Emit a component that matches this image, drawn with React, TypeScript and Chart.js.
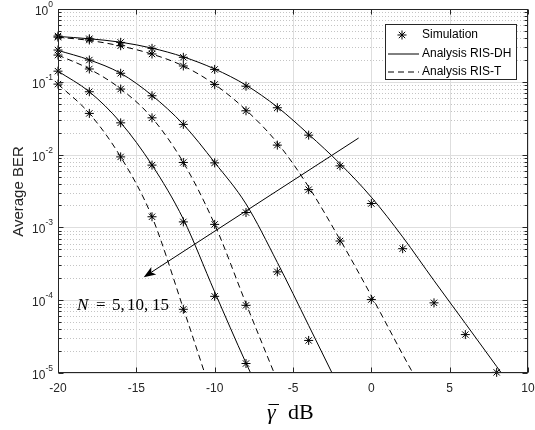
import React, { useEffect, useRef } from 'react';
import { Chart, registerables } from 'chart.js';

Chart.register(...registerables);

// ---- data ----
const snrSim = [-20, -18, -16, -14, -12, -10, -8, -6, -4, -2, 0, 2, 4, 6, 8];
const simN5DH = [0.425, 0.39, 0.348, 0.288, 0.217, 0.148, 0.087, 0.044, 0.0185, 0.007, 0.00213, 5.1e-4, 9.2e-5, 3.37e-5, 1.02e-5];
const simN5T = [0.41, 0.375, 0.313, 0.241, 0.165, 0.092, 0.04, 0.0135, 0.0033, 6.5e-4, 1.02e-4];
const simN10DH = [0.273, 0.199, 0.131, 0.0643, 0.026, 0.0077, 0.0016, 2.45e-4, 2.8e-5];
const simN10T = [0.233, 0.15, 0.0795, 0.032, 0.0078, 0.0011, 8.5e-5];
const simN15DH = [0.14, 0.073, 0.0273, 0.00717, 0.00119, 1.13e-4, 1.35e-5];
const simN15T = [0.093, 0.0368, 0.0093, 0.0014, 7.5e-5];

const snrAna = [-20, -18, -16, -14, -12, -10, -8, -6, -4, -2, 0, 2, 4, 6, 8, 10];
const anaN5DH = [0.42, 0.39, 0.35, 0.29, 0.22, 0.15, 0.09, 0.045, 0.019, 0.0075, 0.0026, 7.4e-4, 1.86e-4, 4.8e-5, 1.23e-5, 3.1e-6];
const anaN5T = [0.41, 0.37, 0.31, 0.24, 0.165, 0.092, 0.041, 0.0145, 0.0036, 6.8e-4, 1.15e-4, 1.8e-5, 3e-6];
const anaN10DH = [0.27, 0.2, 0.131, 0.065, 0.026, 0.0078, 0.0021, 3.3e-4, 4.5e-5, 6e-6];
const anaN10T = [0.233, 0.15, 0.08, 0.032, 0.0078, 0.0011, 9e-5, 7.8e-6];
const anaN15DH = [0.14, 0.073, 0.0275, 0.0072, 0.0013, 1.3e-4, 1.37e-5, 1.7e-6];
const anaN15T = [0.093, 0.0368, 0.0093, 0.0014, 7.7e-5, 3.8e-6];

const xTicks = [-20, -15, -10, -5, 0, 5, 10];
const yDecades = [0, -1, -2, -3, -4, -5];
const legendLabels = ['Simulation', 'Analysis RIS-DH', 'Analysis RIS-T'];
const xTitleSym = 'γ';
const xTitleUnit = 'dB';
const yTitle = 'Average BER';
const annotLabel = ['N', '=', '5,', '10,', '15'];
// arrow (data coordinates): from start to tip
const arrowStart = { x: -0.81, y: 0.0169 };
const arrowTip = { x: -14.53, y: 2.07e-4 };

const AX = '#262626';
const SANS = '"Liberation Sans", Arial, sans-serif';
const SERIF = '"Liberation Serif", "Times New Roman", serif';

function drawStar(ctx: CanvasRenderingContext2D, cx: number, cy: number, r: number) {
  ctx.beginPath();
  ctx.moveTo(cx - r, cy); ctx.lineTo(cx + r, cy);
  ctx.moveTo(cx, cy - r); ctx.lineTo(cx, cy + r);
  const d = r * Math.SQRT1_2;
  ctx.moveTo(cx - d, cy - d); ctx.lineTo(cx + d, cy + d);
  ctx.moveTo(cx - d, cy + d); ctx.lineTo(cx + d, cy - d);
  ctx.stroke();
}

const overlay = {
  id: 'overlay',
  beforeDatasetsDraw(chart: any) {
    const { ctx, chartArea: a, scales } = chart;
    const x = scales.x, y = scales.y;
    ctx.save();
    ctx.lineWidth = 1;
    // minor dotted horizontal grid
    ctx.strokeStyle = '#c4c4c4';
    ctx.setLineDash([1, 2]);
    for (let e = -5; e < 0; e++) {
      for (let m = 2; m <= 9; m++) {
        const py = Math.round(y.getPixelForValue(m * Math.pow(10, e))) + 0.5;
        ctx.beginPath(); ctx.moveTo(a.left, py); ctx.lineTo(a.right, py); ctx.stroke();
      }
    }
    ctx.setLineDash([]);
    ctx.strokeStyle = '#dedede';
    yDecades.forEach((e) => {
      const py = Math.round(y.getPixelForValue(Math.pow(10, e))) + 0.5;
      ctx.beginPath(); ctx.moveTo(a.left, py); ctx.lineTo(a.right, py); ctx.stroke();
    });
    xTicks.forEach((t) => {
      const px = Math.round(x.getPixelForValue(t)) + 0.5;
      ctx.beginPath(); ctx.moveTo(px, a.top); ctx.lineTo(px, a.bottom); ctx.stroke();
    });
    ctx.restore();
  },
  afterDatasetsDraw(chart: any) {
    const { ctx, chartArea: a, scales } = chart;
    const x = scales.x, y = scales.y;
    ctx.save();
    ctx.lineWidth = 1;
    ctx.strokeStyle = AX;
    ctx.setLineDash([]);
    const L = Math.round(a.left) + 0.5, R = Math.round(a.right) - 0.5;
    const T = Math.round(a.top) + 0.5, B = Math.round(a.bottom) - 0.5;
    ctx.strokeRect(L, T, R - L, B - T);
    // ticks
    ctx.beginPath();
    xTicks.forEach((t) => {
      const px = Math.round(x.getPixelForValue(t)) + 0.5;
      ctx.moveTo(px, B); ctx.lineTo(px, B - 5);
      ctx.moveTo(px, T); ctx.lineTo(px, T + 5);
    });
    for (let e = -5; e <= 0; e++) {
      for (let m = 1; m <= 9; m++) {
        if (e === 0 && m > 1) break;
        const py = Math.round(y.getPixelForValue(m * Math.pow(10, e))) + 0.5;
        const len = m === 1 ? 5 : 3;
        ctx.moveTo(L, py); ctx.lineTo(L + len, py);
        ctx.moveTo(R, py); ctx.lineTo(R - len, py);
      }
    }
    ctx.stroke();
    // x tick labels
    ctx.fillStyle = AX;
    ctx.font = `12px ${SANS}`;
    ctx.textAlign = 'center';
    ctx.textBaseline = 'middle';
    xTicks.forEach((t) => {
      ctx.fillText(String(t), x.getPixelForValue(t), a.bottom + 16);
    });
    // y tick labels 10^e
    yDecades.forEach((e) => {
      const py = y.getPixelForValue(Math.pow(10, e));
      const exp = e === 0 ? '0' : '-' + Math.abs(e);
      ctx.font = `8.5px ${SANS}`;
      const ew = ctx.measureText(exp).width;
      ctx.textAlign = 'left';
      ctx.textBaseline = 'alphabetic';
      const right = a.left - 5;
      ctx.fillText(exp, right - ew, py - 2);
      ctx.font = `12px ${SANS}`;
      ctx.textAlign = 'right';
      ctx.fillText('10', right - ew, py + 6);
    });
    // y title
    ctx.save();
    ctx.translate(19, 191.5);
    ctx.rotate(-Math.PI / 2);
    ctx.font = `15px ${SANS}`;
    ctx.textAlign = 'center';
    ctx.textBaseline = 'middle';
    ctx.fillStyle = AX;
    ctx.fillText(yTitle, 0, 0);
    ctx.restore();
    // x title: gamma with bar, then dB
    ctx.fillStyle = '#000';
    ctx.strokeStyle = '#000';
    ctx.textBaseline = 'alphabetic';
    ctx.textAlign = 'left';
    ctx.font = `italic 22px ${SERIF}`;
    ctx.fillText(xTitleSym, 267, 419);
    ctx.beginPath(); ctx.moveTo(268.5, 404.5); ctx.lineTo(279, 404.5); ctx.stroke();
    ctx.font = `22px ${SERIF}`;
    ctx.fillText(xTitleUnit, 288, 419);

    // legend
    const lx = 385.5, ly = 24.5, lw = 131, lh = 55;
    ctx.fillStyle = '#fff';
    ctx.fillRect(lx, ly, lw, lh);
    ctx.strokeStyle = AX;
    ctx.strokeRect(lx, ly, lw, lh);
    const rows = [35, 53.5, 71.5];
    ctx.strokeStyle = '#000';
    drawStar(ctx, 402, rows[0], 4.5);
    ctx.beginPath(); ctx.moveTo(388, rows[1] + 0.5); ctx.lineTo(419, rows[1] + 0.5); ctx.stroke();
    ctx.setLineDash([6, 4]);
    ctx.beginPath(); ctx.moveTo(388, rows[2] + 0.5); ctx.lineTo(419, rows[2] + 0.5); ctx.stroke();
    ctx.setLineDash([]);
    ctx.fillStyle = '#000';
    ctx.font = `12px ${SANS}`;
    ctx.textAlign = 'left';
    ctx.textBaseline = 'middle';
    legendLabels.forEach((s, i) => ctx.fillText(s, 422, rows[i]));

    // arrow annotation
    const sx = x.getPixelForValue(arrowStart.x), sy = y.getPixelForValue(arrowStart.y);
    const tx = x.getPixelForValue(arrowTip.x), ty = y.getPixelForValue(arrowTip.y);
    const ang = Math.atan2(ty - sy, tx - sx);
    const hl = 12, hw = 4.5, notch = 3;
    const ux = Math.cos(ang), uy = Math.sin(ang);
    const bx = tx - ux * hl, by = ty - uy * hl;
    ctx.strokeStyle = '#000';
    ctx.beginPath(); ctx.moveTo(sx, sy); ctx.lineTo(bx + ux * notch, by + uy * notch); ctx.stroke();
    ctx.fillStyle = '#000';
    ctx.beginPath();
    ctx.moveTo(tx, ty);
    ctx.lineTo(bx - uy * hw, by + ux * hw);
    ctx.lineTo(bx + ux * notch, by + uy * notch);
    ctx.lineTo(bx + uy * hw, by - ux * hw);
    ctx.closePath();
    ctx.fill();

    // N = 5, 10, 15
    ctx.textAlign = 'left';
    ctx.textBaseline = 'alphabetic';
    ctx.font = `italic 17px ${SERIF}`;
    ctx.fillText(annotLabel[0], 77, 310);
    ctx.font = `17px ${SERIF}`;
    const px = [96, 112, 127, 152];
    for (let i = 1; i < annotLabel.length; i++) ctx.fillText(annotLabel[i], px[i - 1], 310);
    ctx.restore();
  },
};

export default function App() {
  const ref = useRef<HTMLCanvasElement>(null);
  useEffect(() => {
    document.body.style.margin = '0';
    const canvas = ref.current!;
    const mk = (xs: number[], ys: number[]) => ys.map((v, i) => ({ x: xs[i], y: v }));
    const ana = (d: number[], dashed: boolean) => ({
      data: mk(snrAna, d),
      borderColor: '#000',
      borderWidth: 1,
      borderDash: dashed ? [6, 4] : [],
      pointRadius: 0,
      fill: false,
      cubicInterpolationMode: 'monotone' as const,
    });
    const sim = (d: number[]) => ({
      data: mk(snrSim, d),
      showLine: false,
      pointStyle: 'star' as const,
      pointRadius: 4.5,
      borderColor: '#000',
      backgroundColor: '#000',
      pointBorderWidth: 1,
      clip: 6,
    });
    const chart = new Chart(canvas, {
      type: 'line',
      data: {
        datasets: [
          ana(anaN5DH, false), ana(anaN5T, true),
          ana(anaN10DH, false), ana(anaN10T, true),
          ana(anaN15DH, false), ana(anaN15T, true),
          sim(simN5DH), sim(simN5T), sim(simN10DH), sim(simN10T), sim(simN15DH), sim(simN15T),
        ] as any,
      },
      options: {
        responsive: false,
        animation: false,
        layout: { padding: { left: 58, right: 7, top: 9, bottom: 57 } },
        plugins: { legend: { display: false }, tooltip: { enabled: false } },
        scales: {
          x: { type: 'linear', min: -20, max: 10, display: false },
          y: { type: 'logarithmic', min: 1e-5, max: 1, display: false },
        },
      },
      plugins: [overlay],
    });
    return () => chart.destroy();
  }, []);
  return <canvas ref={ref} width={535} height={430} style={{ display: 'block' }} />;
}
